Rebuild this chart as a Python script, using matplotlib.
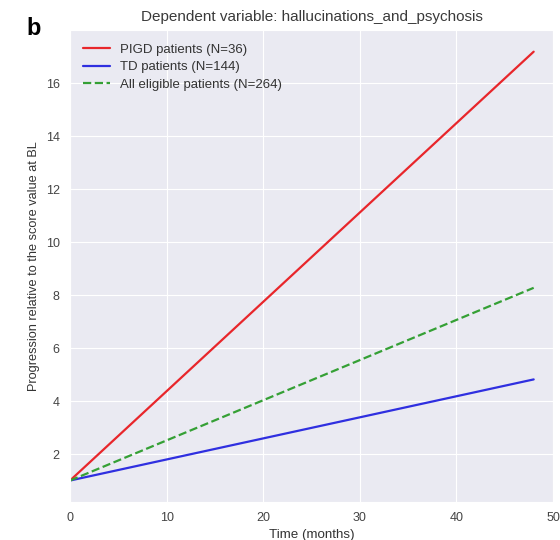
import matplotlib.pyplot as plt
import seaborn as sns

# Progression over time (relative to baseline score)
months = [0, 48]
pigd = [1.0, 17.2]
td = [1.0, 4.82]
all_eligible = [1.0, 8.28]

labels = ['PIGD patients (N=36)', 'TD patients (N=144)', 'All eligible patients (N=264)']
xticks = [0, 10, 20, 30, 40, 50]
yticks = [2, 4, 6, 8, 10, 12, 14, 16]

sns.set_style('darkgrid')
plt.rcParams['font.family'] = ['Liberation Sans', 'DejaVu Sans']

fig = plt.figure(figsize=(5.6, 5.4), dpi=100)
ax = fig.add_axes([0.125, 0.0704, 0.8625, 0.8736])

ax.plot(months, pigd, color='#e8262b', lw=1.6, label=labels[0])
ax.plot(months, td, color='#2f2fe0', lw=1.6, label=labels[1])
ax.plot(months, all_eligible, color='#35a035', lw=1.6, ls='--', label=labels[2])

ax.set_xlim(0, 50)
ax.set_xticks(xticks)
ax.set_yticks(yticks)
ax.tick_params(labelsize=9, colors='#444444', pad=4)
ax.set_xlabel('Time (months)', fontsize=9.6, color='#333333', labelpad=3)
ax.set_ylabel('Progression relative to the score value at BL', fontsize=9.2,
              color='#333333', labelpad=4)
ax.set_title('Dependent variable: hallucinations_and_psychosis', fontsize=11,
             color='#3a3a3a', pad=7)

leg = ax.legend(loc='upper left', fontsize=9.5, frameon=False, handlelength=2.0,
                labelspacing=0.4, borderaxespad=0.6)
for t in leg.get_texts():
    t.set_color('#333333')

fig.text(0.047, 0.935, 'b', fontsize=17, fontweight='bold', color='black')

fig.savefig('out.png', dpi=100)
